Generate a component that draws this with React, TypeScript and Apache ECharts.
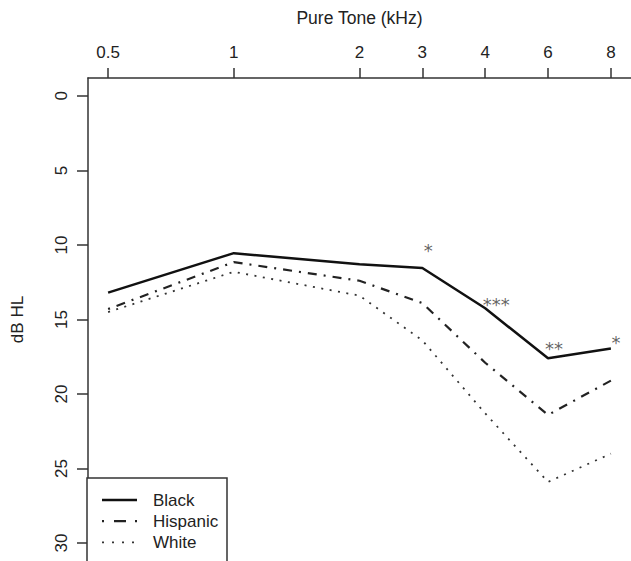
import React, { useEffect, useRef } from "react";
import * as echarts from "echarts";

const freqLabels = ["0.5", "1", "2", "3", "4", "6", "8"];
const freqPos = [0, 2, 4, 5, 6, 7, 8];
const yTicks = [0, 5, 10, 15, 20, 25, 30];
const black = [13.2, 10.55, 11.3, 11.55, 14.25, 17.6, 16.95];
const hispanic = [14.3, 11.15, 12.4, 13.9, 17.9, 21.4, 19.1];
const white = [14.5, 11.8, 13.4, 16.4, 21.3, 25.9, 24.0];
const sigLabels = ["", "", "", "*", "***", "**", "*"];
const sigOffsets: [number, number][] = [
  [0, 0], [0, 0], [0, 0], [6, -3], [11, 11], [6, 5], [5, 8],
];
const legendNames = ["Black", "Hispanic", "White"];

const FONT = "'Liberation Sans', Arial, Helvetica, sans-serif";

const lineStyles = [
  { color: "#111", width: 2.5, type: "solid" as any },
  { color: "#222", width: 2.2, type: [2, 7, 9, 7] as any },
  { color: "#333", width: 1.8, type: [2, 6.5] as any },
];
const legendDash: any[] = [null, [2, 10, 12, 9], [2, 8]];

export default function App() {
  const ref = useRef<HTMLDivElement>(null);
  useEffect(() => {
    if (!ref.current) return;
    const chart = echarts.init(ref.current, undefined, { renderer: "svg" });
    const toData = (arr: number[]) => arr.map((v, i) => [freqPos[i], v]);
    const sigData = black
      .map((v, i) => ({ i, v }))
      .filter((d) => sigLabels[d.i])
      .map((d) => ({
        value: [freqPos[d.i], d.v],
        label: {
          show: true,
          position: "top",
          formatter: sigLabels[d.i],
          offset: sigOffsets[d.i],
          fontSize: 18,
          color: "#3a3a3a",
          fontFamily: "'DejaVu Sans', sans-serif",
        },
      }));

    const legendX = 87;
    const legendY = 478;
    const rowH = 21.2;
    const legendGraphics: any[] = [
      {
        type: "rect",
        shape: { x: legendX, y: legendY, width: 140, height: 100 },
        style: { fill: "#fff", stroke: "#333", lineWidth: 1.5 },
        z: 100,
      },
    ];
    legendNames.forEach((name, i) => {
      const y = legendY + 22 + i * rowH;
      legendGraphics.push({
        type: "line",
        shape: { x1: legendX + 15, y1: y, x2: legendX + 50, y2: y },
        style: {
          stroke: lineStyles[i].color,
          lineWidth: lineStyles[i].width,
          lineDash: legendDash[i],
        },
        z: 101,
      });
      legendGraphics.push({
        type: "text",
        x: legendX + 66,
        y,
        style: {
          text: name,
          fontSize: 17,
          fontFamily: FONT,
          fill: "#222",
          verticalAlign: "middle",
          textAlign: "left",
        },
        z: 101,
      });
    });

    chart.setOption({
      animation: false,
      backgroundColor: "#fff",
      textStyle: { fontFamily: FONT },
      grid: { left: 88, top: 78, right: -5, bottom: -2, containLabel: false },
      xAxis: {
        type: "value",
        position: "top",
        min: -0.32,
        max: 8.32,
        name: "Pure Tone (kHz)",
        nameLocation: "middle",
        nameGap: 51,
        nameTextStyle: { fontSize: 17.5, color: "#222", fontFamily: FONT },
        axisLine: {
          show: true,
          onZero: false,
          lineStyle: { color: "#333", width: 1.5 },
        },
        axisTick: {
          show: true,
          customValues: freqPos,
          length: 10,
          lineStyle: { color: "#333", width: 1.5 },
        },
        axisLabel: {
          customValues: freqPos,
          formatter: (v: number) => {
            const i = freqPos.indexOf(v);
            return i >= 0 ? freqLabels[i] : "";
          },
          fontSize: 17,
          color: "#222",
          margin: 17,
          fontFamily: FONT,
        },
        splitLine: { show: false },
      },
      yAxis: {
        type: "value",
        inverse: true,
        min: -1.2,
        max: 31.2,
        name: "dB HL",
        nameLocation: "middle",
        nameGap: 62,
        nameRotate: 90,
        nameTextStyle: { fontSize: 17, color: "#222", fontFamily: FONT },
        axisLine: {
          show: true,
          onZero: false,
          lineStyle: { color: "#333", width: 1.5 },
        },
        axisTick: {
          show: true,
          customValues: yTicks,
          length: 11,
          lineStyle: { color: "#333", width: 1.5 },
        },
        axisLabel: {
          customValues: yTicks,
          rotate: 90,
          fontSize: 17,
          color: "#222",
          margin: 18,
          fontFamily: FONT,
        },
        splitLine: { show: false },
      },
      graphic: legendGraphics,
      series: [
        {
          name: "Black",
          type: "line",
          symbol: "none",
          data: toData(black),
          lineStyle: lineStyles[0],
          itemStyle: { color: "#111" },
          z: 5,
        },
        {
          name: "Hispanic",
          type: "line",
          symbol: "none",
          data: toData(hispanic),
          lineStyle: lineStyles[1],
          itemStyle: { color: "#222" },
        },
        {
          name: "White",
          type: "line",
          symbol: "none",
          data: toData(white),
          lineStyle: lineStyles[2],
          itemStyle: { color: "#333" },
        },
        {
          name: "sig",
          type: "scatter",
          symbolSize: 1,
          itemStyle: { color: "rgba(0,0,0,0)" },
          data: sigData,
          silent: true,
          z: 6,
        },
      ],
    });
    return () => chart.dispose();
  }, []);
  return (
    <div
      ref={ref}
      style={{ position: "fixed", left: 0, top: 0, width: 631, height: 561 }}
    />
  );
}
